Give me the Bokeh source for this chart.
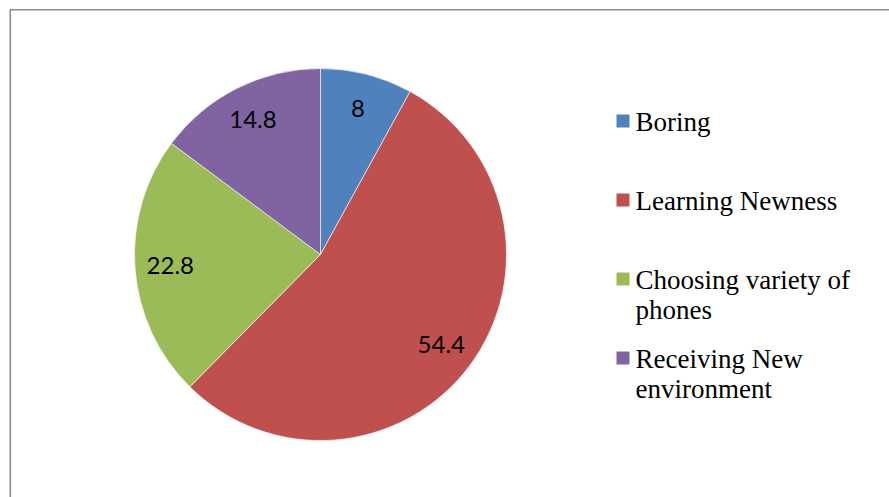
import textwrap
import numpy as np
from bokeh.plotting import figure
from bokeh.models import Range1d, ColumnDataSource
from bokeh.core.properties import value
from bokeh.embed import file_html
from bokeh.resources import INLINE

categories = ["Boring", "Learning Newness", "Choosing variety of phones", "Receiving New environment"]
values = [8, 54.4, 22.8, 14.8]
colors = ["#4F81BD", "#C0504D", "#9BBB59", "#8064A2"]

W, H = 889, 497
p = figure(width=W, height=H, x_range=Range1d(0, W), y_range=Range1d(0, H),
           output_backend="svg", toolbar_location=None, min_border=0)
p.axis.visible = False
p.grid.visible = False
p.outline_line_color = None
p.background_fill_color = "white"
p.border_fill_color = "white"

# chart-area frame (extends past right/bottom edges)
p.quad(left=9.8, right=W + 20, bottom=-20, top=H - 9.2, fill_color=None,
       line_color="#8a8a8a", line_width=1.6)

# pie
cx, cy, r = 320, H - 254, 186
vals = np.array(values, dtype=float)
frac = vals / vals.sum()
cum = np.concatenate([[0], np.cumsum(frac)])
start = np.pi / 2 - 2 * np.pi * cum[:-1]
end = np.pi / 2 - 2 * np.pi * cum[1:]
mid = (start + end) / 2

src = ColumnDataSource(dict(start=start, end=end, color=colors))
p.wedge(x=cx, y=cy, radius=r, start_angle="start", end_angle="end", direction="clock",
        fill_color="color", line_color="white", line_width=0.6, source=src)

lab_r = r * 0.81
lab = ColumnDataSource(dict(
    x=cx + lab_r * np.cos(mid),
    y=cy + lab_r * np.sin(mid),
    t=[("%g" % v) for v in values],
))
p.text(x="x", y="y", text="t", source=lab, text_align="center", text_baseline="middle",
       text_font=value("Lato"), text_font_size="24px", text_color="black")

# legend
lx_sq, lx_txt = 622.5, 635
first_base = 129.5
step = 79
line_h = 30
sq_x, sq_y, tx, ty, tt = [], [], [], [], []
for i, c in enumerate(categories):
    base = first_base + step * i
    sq_x.append(lx_sq)
    sq_y.append(H - (base - 9))
    for j, line in enumerate(textwrap.wrap(c, 20)):
        tx.append(lx_txt)
        ty.append(H - (base - 8 + j * line_h))
        tt.append(line)

p.rect(x=sq_x, y=sq_y, width=13, height=13, fill_color=colors, line_color=None)
p.text(x=tx, y=ty, text=tt, text_align="left", text_baseline="alphabetic",
       text_font=value("Liberation Serif"), text_font_size="27px", text_color="black")

open("out.html", "w").write(file_html(p, INLINE))
